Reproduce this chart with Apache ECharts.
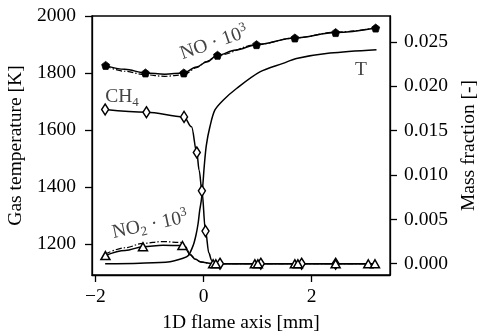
<!DOCTYPE html>
<html><head><meta charset="utf-8">
<script src="https://cdn.jsdelivr.net/npm/echarts@6/dist/echarts.min.js"></script>
<style>html,body{margin:0;padding:0;background:#fff}#c{width:478px;height:335px}</style>
</head><body><div id="c"></div>
<script>
// ---- Temperature (left axis) ----
const tX = [-1.82, -1.18, -0.62, -0.38, -0.28, -0.19, -0.14, -0.10, -0.07, -0.04, -0.013, 0.015, 0.052, 0.117, 0.209, 0.363, 0.611, 1.043, 1.47, 1.72, 2.34, 3.20];
const tY = [1132, 1134, 1139, 1151, 1161, 1197, 1232, 1273, 1320, 1355, 1407, 1477, 1547, 1611, 1670, 1705, 1746, 1804, 1834, 1851, 1870, 1882];

// ---- CH4 (right axis) ----
const ch4X = [-1.82, -1.056, -0.36, -0.222, -0.124, -0.081, -0.03, 0.037, 0.1, 0.148, 0.2, 0.3, 1.06, 1.81, 2.44, 3.2];
const ch4Y = [0.01739, 0.01708, 0.01655, 0.01543, 0.01254, 0.01055, 0.00822, 0.00368, 0.0012, 0.0004, 0.0001, 0, 0, 0, 0, 0];
const ch4MarkX = [-1.82, -1.056, -0.36, -0.124, -0.03, 0.037, 0.305, 1.06, 1.815, 2.444];
const ch4MarkY = [0.01739, 0.01708, 0.01655, 0.01254, 0.00822, 0.00368, 0, 0, 0, 0];

// ---- NO*1e3 (right axis) ----
const noX = [-1.82, -1.457, -1.074, -0.717, -0.365, -0.13, 0.056, 0.259, 0.6, 0.981, 1.69, 2.444, 3.185];
const noY = [0.02236, 0.02192, 0.02151, 0.02136, 0.02151, 0.02218, 0.02275, 0.02350, 0.0241, 0.02470, 0.02545, 0.02606, 0.02657];
const noDashX = [-1.82, -1.457, -1.074, -0.717, -0.365, -0.13, 0.056, 0.259, 0.981, 1.69, 2.444, 3.2];
const noDashY = [0.0223, 0.0217, 0.0213, 0.02113, 0.0213, 0.0221, 0.0228, 0.0235, 0.0247, 0.02545, 0.0261, 0.0266];
const noMarkX = [-1.81, -1.074, -0.365, 0.259, 0.981, 1.69, 2.444, 3.185];
const noMarkY = [0.02236, 0.02151, 0.02151, 0.02350, 0.02470, 0.02545, 0.02606, 0.02657];

// ---- NO2*1e3 (right axis) ----
const no2X = [-1.82, -1.45, -1.12, -0.75, -0.39, -0.33, -0.25, -0.15, -0.05, 0.15, 0.3, 3.2];
const no2Y = [0.00092, 0.0015, 0.00191, 0.00207, 0.00205, 0.0017, 0.0010, 0.0005, 0.0002, 0.00002, 0, 0];
const no2DashX = [-1.82, -1.45, -1.12, -0.75, -0.42, -0.33, -0.25, -0.15, -0.05, 0.15, 3.2];
const no2DashY = [0.0011, 0.0018, 0.0023, 0.0025, 0.0024, 0.0019, 0.0011, 0.0005, 0.0002, 0, 0];
const no2MarkX = [-1.815, -1.12, -0.39, 0.178, 0.228, 0.95, 1.006, 1.69, 1.746, 2.444, 3.048, 3.172];
const no2MarkY = [0.00092, 0.00191, 0.00205, 0, 0, 0, 0, 0, 0, 0, 0, 0];

// ---- ticks ----
const xTicks = [-2, 0, 2];
const tempTicks = [1200, 1400, 1600, 1800, 2000];
const massTicks = [0, 0.005, 0.010, 0.015, 0.020, 0.025];

const zip = (a, b) => a.map((v, i) => [v, b[i]]);
const FONT = "'Liberation Serif','Times New Roman',serif";
const FS = 19.5;
const tickStyle = { show: true, inside: false, length: 7, lineStyle: { color: '#000', width: 1.3 } };
const lineBase = { type: 'line', showSymbol: false, smooth: 0.3, silent: true };
const lineMono = { type: 'line', showSymbol: false, smooth: 0.35, smoothMonotone: 'x', silent: true };

const chart = echarts.init(document.getElementById('c'), null, { renderer: 'canvas' });
chart.setOption({
  animation: false,
  backgroundColor: '#fff',
  grid: { left: 92, right: 88, top: 16, bottom: 60, containLabel: false, outerBoundsMode: 'none',
    show: true, borderColor: '#000', borderWidth: 1.3, backgroundColor: 'transparent' },
  xAxis: {
    type: 'value', min: -2.063, max: 3.45,
    axisLine: { show: true, onZero: false, lineStyle: { color: '#000', width: 1.3 } },
    axisTick: Object.assign({ customValues: xTicks }, tickStyle),
    axisLabel: { customValues: xTicks, color: '#000', fontSize: FS, fontFamily: FONT, margin: 12,
      formatter: v => (v < 0 ? '\u2212' + Math.abs(v) : String(v)) },
    splitLine: { show: false },
    name: '1D flame axis [mm]', nameLocation: 'middle', nameGap: 38,
    nameTextStyle: { color: '#000', fontSize: FS, fontFamily: FONT }
  },
  yAxis: [{
    type: 'value', min: 1092.6, max: 2000, position: 'left',
    axisLine: { show: true, onZero: false, lineStyle: { color: '#000', width: 1.3 } },
    axisTick: Object.assign({ customValues: tempTicks }, tickStyle),
    axisLabel: { customValues: tempTicks, color: '#000', fontSize: FS, fontFamily: FONT, margin: 16,
      formatter: v => String(v) },
    splitLine: { show: false },
    name: 'Gas temperature [K]', nameLocation: 'middle', nameGap: 62,
    nameTextStyle: { color: '#000', fontSize: FS, fontFamily: FONT }
  }, {
    type: 'value', min: -0.00127, max: 0.02793, position: 'right',
    axisLine: { show: true, onZero: false, lineStyle: { color: '#000', width: 1.3 } },
    axisTick: Object.assign({ customValues: massTicks }, tickStyle),
    axisLabel: { customValues: massTicks, color: '#000', fontSize: FS, fontFamily: FONT, margin: 14,
      formatter: v => v.toFixed(3) },
    splitLine: { show: false },
    name: 'Mass fraction [-]', nameLocation: 'middle', nameGap: 68, nameRotate: 90,
    nameTextStyle: { color: '#000', fontSize: FS, fontFamily: FONT }
  }],
  series: [
    Object.assign({}, lineBase, { name: 'T', yAxisIndex: 0, data: zip(tX, tY), lineStyle: { color: '#000', width: 1.5 } }),
    Object.assign({}, lineMono, { name: 'CH4', yAxisIndex: 1, data: zip(ch4X, ch4Y), lineStyle: { color: '#000', width: 1.5 } }),
    Object.assign({}, lineMono, { name: 'NO', yAxisIndex: 1, data: zip(noX, noY), lineStyle: { color: '#000', width: 1.5 } }),
    Object.assign({}, lineMono, { name: 'NO dashdot', yAxisIndex: 1, data: zip(noDashX, noDashY), lineStyle: { color: '#000', width: 1.2, type: [6, 2, 1.5, 2] } }),
    Object.assign({}, lineMono, { name: 'NO2', yAxisIndex: 1, data: zip(no2X, no2Y), lineStyle: { color: '#000', width: 1.5 } }),
    Object.assign({}, lineMono, { name: 'NO2 dashdot', yAxisIndex: 1, data: zip(no2DashX, no2DashY), lineStyle: { color: '#000', width: 1.2, type: [6, 2, 1.5, 2] } }),
    { type: 'scatter', yAxisIndex: 1, silent: true, z: 5, data: zip(ch4MarkX, ch4MarkY), symbol: 'diamond', symbolSize: [7, 11],
      itemStyle: { color: '#fff', borderColor: '#000', borderWidth: 1.5, opacity: 1 } },
    { type: 'scatter', yAxisIndex: 1, silent: true, z: 5, data: zip(no2MarkX, no2MarkY), symbol: 'triangle', symbolSize: [9, 8],
      itemStyle: { color: '#fff', borderColor: '#000', borderWidth: 1.5, opacity: 1 } },
    { type: 'scatter', yAxisIndex: 1, silent: true, z: 5, data: zip(noMarkX, noMarkY),
      symbol: 'path://M0,-10 L9.5,-3.1 L5.9,8.1 L-5.9,8.1 L-9.5,-3.1 Z', symbolSize: 8,
      itemStyle: { color: '#000', borderColor: '#000', borderWidth: 0.8, opacity: 1 } }
  ],
  graphic: [
    { type: 'text', x: 214, y: 43, rotation: 19 * Math.PI / 180, z: 10,
      style: { text: '{n|NO \u00b7 10}{s|3}', align: 'center', verticalAlign: 'middle',
        rich: { n: { fontSize: FS, fontFamily: FONT, fill: '#444', lineHeight: 24 },
                s: { fontSize: 13, fontFamily: FONT, fill: '#444', lineHeight: 14, verticalAlign: 'top' } } } },
    { type: 'text', x: 150, y: 225, rotation: 12 * Math.PI / 180, z: 10,
      style: { text: '{n|NO}{b|2}{n| \u00b7 10}{s|3}', align: 'center', verticalAlign: 'middle',
        rich: { n: { fontSize: FS, fontFamily: FONT, fill: '#444', lineHeight: 24 },
                b: { fontSize: 13, fontFamily: FONT, fill: '#444', lineHeight: 14, verticalAlign: 'bottom' },
                s: { fontSize: 13, fontFamily: FONT, fill: '#444', lineHeight: 14, verticalAlign: 'top' } } } },
    { type: 'text', x: 122, y: 97, z: 10,
      style: { text: '{n|CH}{b|4}', align: 'center', verticalAlign: 'middle',
        rich: { n: { fontSize: FS, fontFamily: FONT, fill: '#444', lineHeight: 24 },
                b: { fontSize: 13, fontFamily: FONT, fill: '#444', lineHeight: 14, verticalAlign: 'bottom' } } } },
    { type: 'text', x: 361, y: 70, z: 10,
      style: { text: 'T', align: 'center', verticalAlign: 'middle', fontSize: FS, fontFamily: FONT, fill: '#444' } }
  ]
});
</script>
</body></html>
